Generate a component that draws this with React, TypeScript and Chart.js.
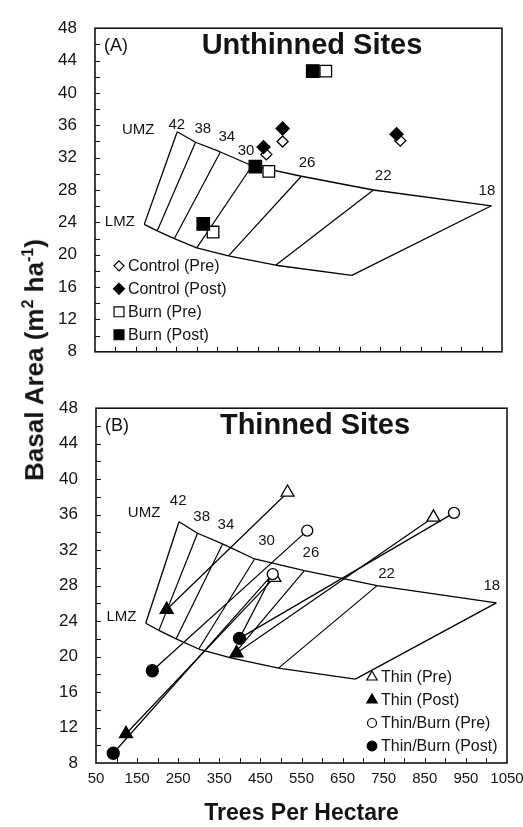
import React, { useEffect, useRef, useState } from 'react';
import { Chart, registerables } from 'chart.js';

Chart.register(...registerables);

const FONT = "'Liberation Sans', Arial, Helvetica, sans-serif";
const INK = '#141414';

// ---- axes ----
const X_MIN = 50;
const X_MAX = 1050;
const X_TICKS = [50, 150, 250, 350, 450, 550, 650, 750, 850, 950, 1050];
const X_MINOR_STEP = 50;
const Y_MIN = 8;
const Y_MAX = 48;
const Y_TICKS = [8, 12, 16, 20, 24, 28, 32, 36, 40, 44, 48];
const Y_MINOR_STEP = 2;
const X_AXIS_TITLE = 'Trees Per Hectare';

// ---- management zone (upper edge 42 -> 18, lower edge LMZ 42 -> 18) ----
const zoneUpper = [
  { x: 252, y: 35.2 },
  { x: 297, y: 33.9 },
  { x: 358, y: 32.7 },
  { x: 436, y: 31.0 },
  { x: 557, y: 29.7 },
  { x: 734, y: 28.0 },
  { x: 1024, y: 26.05 },
];
const zoneLower = [
  { x: 171, y: 23.75 },
  { x: 203, y: 22.95 },
  { x: 245, y: 22.0 },
  { x: 300, y: 20.85 },
  { x: 378, y: 19.85 },
  { x: 494, y: 18.7 },
  { x: 681, y: 17.45 },
];

const zoneLabelsA = [
  { t: 'UMZ', x: 156, y: 35.4 },
  { t: '42', x: 251, y: 36.1 },
  { t: '38', x: 315, y: 35.6 },
  { t: '34', x: 374, y: 34.6 },
  { t: '30', x: 421, y: 32.8 },
  { t: '26', x: 571, y: 31.3 },
  { t: '22', x: 758, y: 29.7 },
  { t: '18', x: 1013, y: 27.9 },
  { t: 'LMZ', x: 111, y: 24.1 },
];
const zoneLabelsB = [
  { t: 'UMZ', x: 167, y: 36.2 },
  { t: '42', x: 250, y: 37.5 },
  { t: '38', x: 307, y: 35.8 },
  { t: '34', x: 366, y: 34.8 },
  { t: '30', x: 465, y: 33.0 },
  { t: '26', x: 573, y: 31.7 },
  { t: '22', x: 757, y: 29.3 },
  { t: '18', x: 1013, y: 28.0 },
  { t: 'LMZ', x: 112, y: 24.5 },
];

// ---- panel A: unthinned sites ----
const controlPre = [
  { x: 471, y: 32.4 },
  { x: 511, y: 34.0 },
  { x: 800, y: 34.1 },
];
const controlPost = [
  { x: 464, y: 33.3 },
  { x: 511, y: 35.6 },
  { x: 791, y: 34.9 },
];
const burnPre = [
  { x: 617, y: 42.7 },
  { x: 477, y: 30.3 },
  { x: 340, y: 22.8 },
];
const burnPost = [
  { x: 585, y: 42.7 },
  { x: 444, y: 30.9 },
  { x: 316, y: 23.8 },
];

// ---- panel B: thinned sites ----
const thinPre = [
  { x: 516, y: 38.5 },
  { x: 871, y: 35.7 },
  { x: 484, y: 28.9 },
];
const thinPost = [
  { x: 222, y: 25.3 },
  { x: 392, y: 20.4 },
  { x: 123, y: 11.3 },
];
const thinBurnPre = [
  { x: 564, y: 34.2 },
  { x: 921, y: 36.2 },
  { x: 480, y: 29.3 },
];
const thinBurnPost = [
  { x: 187, y: 18.4 },
  { x: 399, y: 22.05 },
  { x: 92, y: 9.1 },
];
// pre -> post connections (series pairs, point indices)
const connectionsB: [any[], number, any[], number][] = [
  [thinPre, 0, thinPost, 0],
  [thinPre, 1, thinPost, 1],
  [thinPre, 2, thinPost, 2],
  [thinBurnPre, 0, thinBurnPost, 0],
  [thinBurnPre, 1, thinBurnPost, 1],
  [thinBurnPre, 2, thinBurnPost, 2],
  [thinBurnPre, 2, thinBurnPost, 1],
];

type Pt = { x: number; y: number };
type Series = { label: string; data: Pt[]; style: string; r: number; lr: number; filled: boolean };

const seriesA: Series[] = [
  { label: 'Control (Pre)', data: controlPre, style: 'rectRot', r: 5.5, lr: 5, filled: false },
  { label: 'Control (Post)', data: controlPost, style: 'rectRot', r: 6.5, lr: 5.5, filled: true },
  { label: 'Burn (Pre)', data: burnPre, style: 'rect', r: 8.2, lr: 7, filled: false },
  { label: 'Burn (Post)', data: burnPost, style: 'rect', r: 8.8, lr: 7, filled: true },
];
const seriesB: Series[] = [
  { label: 'Thin (Pre)', data: thinPre, style: 'triangle', r: 7.5, lr: 6, filled: false },
  { label: 'Thin (Post)', data: thinPost, style: 'triangle', r: 7.5, lr: 6, filled: true },
  { label: 'Thin/Burn (Pre)', data: thinBurnPre, style: 'circle', r: 5.5, lr: 4.5, filled: false },
  { label: 'Thin/Burn (Post)', data: thinBurnPost, style: 'circle', r: 6, lr: 4.8, filled: true },
];

function drawMarker(ctx: CanvasRenderingContext2D, style: string, x: number, y: number, r: number, filled: boolean) {
  ctx.beginPath();
  if (style === 'circle') {
    ctx.arc(x, y, r, 0, Math.PI * 2);
  } else if (style === 'rect') {
    const s = r * Math.SQRT1_2;
    ctx.rect(x - s, y - s, 2 * s, 2 * s);
  } else if (style === 'rectRot') {
    ctx.moveTo(x, y - r);
    ctx.lineTo(x + r, y);
    ctx.lineTo(x, y + r);
    ctx.lineTo(x - r, y);
    ctx.closePath();
  } else {
    for (let k = 0; k < 3; k++) {
      const a = (k * 2 * Math.PI) / 3;
      const px = x + Math.sin(a) * r;
      const py = y - Math.cos(a) * r;
      if (k === 0) ctx.moveTo(px, py);
      else ctx.lineTo(px, py);
    }
    ctx.closePath();
  }
  ctx.fillStyle = filled ? '#000' : '#fff';
  ctx.fill();
  ctx.lineWidth = 1.2;
  ctx.strokeStyle = '#000';
  ctx.stroke();
}

const decorPlugin = {
  id: 'decor',
  afterDraw(chart: any, _args: any, opts: any) {
    const { ctx, chartArea: a, scales } = chart;
    const xs = scales.x;
    const ys = scales.y;
    ctx.save();
    // zone labels
    ctx.fillStyle = INK;
    ctx.font = `15px ${FONT}`;
    ctx.textAlign = 'center';
    ctx.textBaseline = 'middle';
    for (const l of opts.zoneLabels) {
      ctx.fillText(l.t, xs.getPixelForValue(l.x), ys.getPixelForValue(l.y));
    }
    // inward ticks
    ctx.strokeStyle = INK;
    ctx.lineWidth = 1;
    ctx.beginPath();
    for (let v = X_MIN + X_MINOR_STEP; v < X_MAX; v += X_MINOR_STEP) {
      const px = Math.round(xs.getPixelForValue(v)) + 0.5;
      ctx.moveTo(px, a.bottom);
      ctx.lineTo(px, a.bottom - 5);
    }
    for (let v = Y_MIN + Y_MINOR_STEP; v < Y_MAX; v += Y_MINOR_STEP) {
      const py = Math.round(ys.getPixelForValue(v)) + 0.5;
      ctx.moveTo(a.left, py);
      ctx.lineTo(a.left + 5, py);
    }
    ctx.stroke();
    // frame
    ctx.lineWidth = 1.6;
    ctx.strokeRect(a.left, a.top, a.right - a.left, a.bottom - a.top);
    // titles
    ctx.fillStyle = INK;
    ctx.textBaseline = 'middle';
    ctx.textAlign = 'left';
    ctx.font = `18px ${FONT}`;
    ctx.fillText(opts.tag, a.left + 9, a.top + 18);
    ctx.textAlign = 'center';
    ctx.font = `bold 29px ${FONT}`;
    ctx.fillText(opts.title, a.left + opts.titleDx, a.top + 18);
    // legend
    ctx.font = `16px ${FONT}`;
    ctx.textAlign = 'left';
    opts.series.forEach((s: Series, i: number) => {
      const mx = a.left + opts.legendDx;
      const my = a.bottom - 86 + i * 23;
      drawMarker(ctx, s.style, mx, my, s.lr, s.filled);
      ctx.fillStyle = INK;
      ctx.fillText(s.label, mx + 9, my + 1);
    });
    ctx.restore();
  },
};

function lineDs(a: Pt, b: Pt, w: number) {
  return {
    data: [a, b],
    showLine: true,
    pointRadius: 0,
    pointHoverRadius: 0,
    borderColor: '#000',
    borderWidth: w,
    fill: false,
    order: 5,
  };
}

function buildConfig(p: any) {
  const datasets: any[] = [];
  [...p.series].reverse().forEach((s: Series) => {
    datasets.push({
      label: s.label,
      data: s.data,
      showLine: false,
      pointStyle: s.style,
      pointRadius: s.r,
      pointHoverRadius: s.r,
      pointBackgroundColor: s.filled ? '#000' : '#fff',
      pointBorderColor: '#000',
      pointBorderWidth: 1.3,
      order: 0,
    });
  });
  for (const c of p.connections) datasets.push(lineDs(c[0][c[1]], c[2][c[3]], 1.2));
  // zone outline
  const outline = [...zoneUpper, ...[...zoneLower].reverse(), zoneUpper[0]];
  for (let i = 0; i < outline.length - 1; i++) datasets.push(lineDs(outline[i], outline[i + 1], 1.3));
  for (let i = 1; i < zoneUpper.length - 1; i++) datasets.push(lineDs(zoneUpper[i], zoneLower[i], 1.2));

  return {
    type: 'scatter',
    data: { datasets },
    plugins: [decorPlugin],
    options: {
      responsive: false,
      maintainAspectRatio: false,
      animation: false,
      events: [],
      layout: { padding: { left: 0, right: p.padRight, top: 18, bottom: 0 } },
      plugins: {
        legend: { display: false },
        tooltip: { enabled: false },
        decor: {
          zoneLabels: p.zoneLabels,
          tag: p.tag,
          title: p.title,
          titleDx: p.titleDx,
          legendDx: p.legendDx,
          series: p.series,
        },
      },
      scales: {
        x: {
          type: 'linear',
          min: X_MIN,
          max: X_MAX,
          grid: { display: false, drawTicks: false },
          border: { display: false },
          afterBuildTicks: (s: any) => {
            s.ticks = X_TICKS.map((v) => ({ value: v }));
          },
          ticks: { display: false },
          title: {
            display: p.showX,
            text: X_AXIS_TITLE,
            color: INK,
            font: { family: FONT, size: 23, weight: 'bold' },
            padding: { top: 0, bottom: 0 },
          },
          afterFit: (s: any) => {
            s.height = p.xHeight;
          },
        },
        y: {
          type: 'linear',
          min: Y_MIN,
          max: Y_MAX,
          grid: { display: false, drawTicks: false },
          border: { display: false },
          afterBuildTicks: (s: any) => {
            s.ticks = Y_TICKS.map((v) => ({ value: v }));
          },
          ticks: {
            padding: 18,
            autoSkip: false,
            color: INK,
            font: { family: FONT, size: 17 },
            callback: (v: any) => String(v),
          },
          afterFit: (s: any) => {
            s.width = p.yWidth;
          },
        },
      },
    },
  };
}

type XLabel = { text: string; left: number; top: number };

function Panel({ top, height, cfg }: { top: number; height: number; cfg: any }) {
  const ref = useRef<HTMLCanvasElement>(null);
  const [xLabels, setXLabels] = useState<XLabel[]>([]);
  useEffect(() => {
    const chart: any = new Chart(ref.current as HTMLCanvasElement, buildConfig(cfg) as any);
    if (cfg.showX) {
      const xs = chart.scales.x;
      const bottom = chart.chartArea.bottom;
      setXLabels(
        X_TICKS.map((v) => ({ text: String(v), left: xs.getPixelForValue(v), top: top + bottom + 15 }))
      );
    }
    return () => chart.destroy();
  }, []);
  return (
    <>
      <canvas
        ref={ref}
        width={523}
        height={height}
        style={{ position: 'absolute', left: 0, top, width: 523, height }}
      />
      {xLabels.map((l) => (
        <div
          key={l.text}
          style={{
            position: 'absolute',
            left: l.left,
            top: l.top,
            transform: 'translate(-50%, -50%)',
            fontFamily: FONT,
            fontSize: 15,
            lineHeight: '18px',
            color: INK,
            whiteSpace: 'nowrap',
          }}
        >
          {l.text}
        </div>
      ))}
    </>
  );
}

const panelA = {
  series: seriesA,
  connections: [],
  zoneLabels: zoneLabelsA,
  tag: '(A)',
  title: 'Unthinned Sites',
  titleDx: 217,
  legendDx: 24,
  showX: false,
  xHeight: 12,
  yWidth: 95,
  padRight: 21,
};

const panelB = {
  series: seriesB,
  connections: connectionsB,
  zoneLabels: zoneLabelsB,
  tag: '(B)',
  title: 'Thinned Sites',
  titleDx: 219,
  legendDx: 276,
  showX: true,
  xHeight: 64,
  yWidth: 96,
  padRight: 16,
};

export default function App() {
  return (
    <div
      style={{
        position: 'fixed',
        left: 0,
        top: 0,
        width: 523,
        height: 827,
        background: '#fff',
        overflow: 'hidden',
      }}
    >
      <Panel top={0} height={380} cfg={panelA} />
      <Panel top={380} height={447} cfg={panelB} />
      <div
        style={{
          position: 'absolute',
          left: 31,
          top: 360,
          transform: 'translate(-50%, -50%) rotate(-90deg)',
          whiteSpace: 'nowrap',
          fontFamily: FONT,
          fontWeight: 'bold',
          fontSize: 26,
          color: INK,
          lineHeight: '30px',
        }}
      >
        Basal Area (m<sup style={{ fontSize: 16 }}>2</sup> ha<sup style={{ fontSize: 16 }}>-1</sup>)
      </div>
    </div>
  );
}
